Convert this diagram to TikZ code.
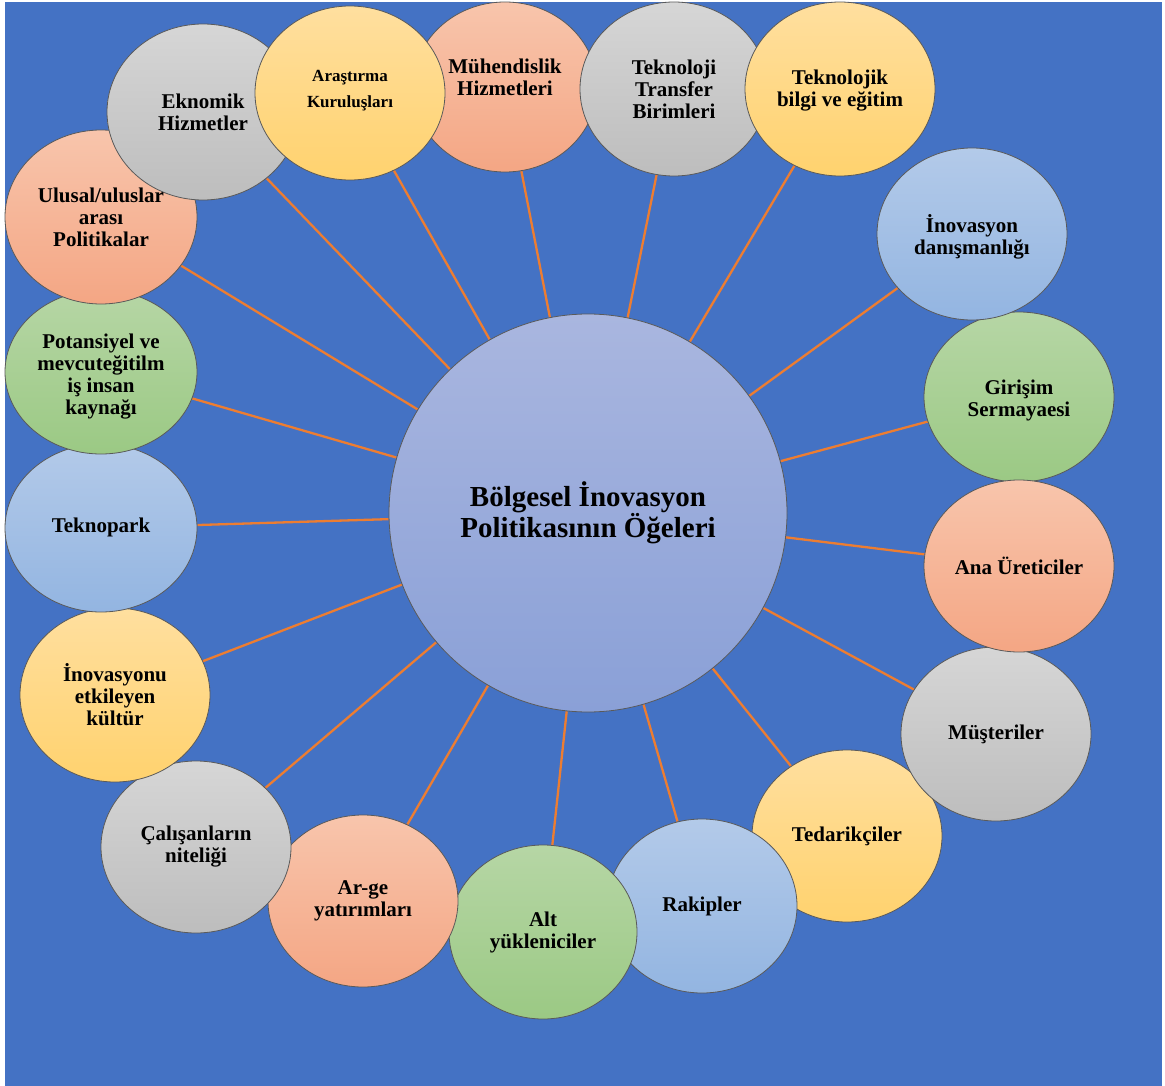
\documentclass[tikz,border=0pt]{standalone}
\usepackage{fontspec}
\setmainfont{Liberation Serif}
\usetikzlibrary{shapes.geometric}
\pgfdeclarelayer{bg}
\pgfsetlayers{bg,main}
\definecolor{bgblue}{HTML}{4472C4}
\definecolor{con}{HTML}{ED7D31}
\definecolor{edge}{HTML}{5A5A5A}
\definecolor{peachT}{HTML}{F8C5AC}
\definecolor{peachB}{HTML}{F4A684}
\definecolor{grayT}{HTML}{D6D6D6}
\definecolor{grayB}{HTML}{BDBDBD}
\definecolor{yelT}{HTML}{FFDF9F}
\definecolor{yelB}{HTML}{FFD26E}
\definecolor{bluT}{HTML}{B3CAE9}
\definecolor{bluB}{HTML}{93B5E1}
\definecolor{grnT}{HTML}{B6D6A5}
\definecolor{grnB}{HTML}{9BC984}
\definecolor{cenT}{HTML}{A9B6DF}
\definecolor{cenB}{HTML}{8AA0D7}
\tikzset{
  bub/.style={ellipse,draw=edge,line width=0.8pt,inner sep=0pt,
    minimum width=190pt,minimum height=172pt},
  peach/.style={top color=peachT,bottom color=peachB},
  grayf/.style={top color=grayT,bottom color=grayB},
  yel/.style={top color=yelT,bottom color=yelB},
  blu/.style={top color=bluT,bottom color=bluB},
  grn/.style={top color=grnT,bottom color=grnB},
  lab/.style={font=\bfseries\fontsize{21}{22}\selectfont,align=center,inner sep=0pt},
  conn/.style={draw=con,line width=2.3pt},
}
\begin{document}
\begin{tikzpicture}[x=1pt,y=-1pt]
\useasboundingbox (0,0) rectangle (1165,1086);
\begin{pgfonlayer}{bg}
\fill[white] (0,0) rectangle (1165,1086);
\fill[bgblue] (5,2) rectangle (1162,1086);
\end{pgfonlayer}

% center
\node[circle,draw=edge,line width=0.8pt,inner sep=0pt,minimum size=398pt,top color=cenT,bottom color=cenB] (c) at (588,513) {};

% satellites (draw order matters for overlaps)
\node[bub,peach,minimum width=184pt,minimum height=170pt] (muhendis) at (505,87) {};
\node[bub,grayf,minimum width=188pt,minimum height=174pt] (transfer) at (674,89) {};
\node[bub,yel,minimum height=174pt] (teknolojik) at (840,89) {};
\node[bub,grn,minimum height=170pt] (girisim) at (1019,397) {};
\node[bub,blu] (danisman) at (972,234) {};
\node[bub,yel] (tedarik) at (847,836) {};
\node[bub,grayf,minimum height=174pt] (musteri) at (996,734) {};
\node[bub,peach] (ana) at (1019,566) {};
\node[bub,blu,minimum height=174pt] (rakip) at (702,906) {};
\node[bub,grn,minimum width=188pt,minimum height=174pt] (alt) at (543,932) {};
\node[bub,peach] (arge) at (363,901) {};
\node[bub,grayf] (calisan) at (196,847) {};
\node[bub,yel,minimum height=174pt] (kultur) at (115,695) {};
\node[bub,blu,minimum width=192pt,minimum height=168pt] (teknopark) at (101,528) {};
\node[bub,grn,minimum width=192pt,minimum height=164pt] (potansiyel) at (101,372) {};
\node[bub,peach,minimum width=192pt,minimum height=174pt] (ulusal) at (101,217) {};
\node[bub,grayf,minimum width=192pt,minimum height=176pt] (eknomik) at (203,112) {};
\node[bub,yel,minimum height=174pt] (arastirma) at (350,93) {};

% connectors
\begin{pgfonlayer}{bg}
\foreach \t in {muhendis,transfer,teknolojik,girisim,danisman,tedarik,musteri,ana,rakip,alt,arge,calisan,kultur,teknopark,potansiyel,ulusal,eknomik,arastirma}
  \draw[conn] (c) -- (\t);
\end{pgfonlayer}

% texts
\node[lab,font=\bfseries\fontsize{29}{30}\selectfont] (tc) at (c) {Bölgesel İnovasyon\\Politikasının Öğeleri};
\node[lab] (t1) at ([yshift=10pt]muhendis.center) {Mühendislik\\Hizmetleri};
\node[lab] (t2) at (transfer) {Teknoloji\\Transfer\\Birimleri};
\node[lab] (t3) at ([yshift=-2pt]teknolojik.center) {Teknolojik\\bilgi ve eğitim};
\node[lab] (t4) at ([yshift=-3pt]girisim.center) {Girişim\\Sermayaesi};
\node[lab] (t5) at ([yshift=-3pt]danisman.center) {İnovasyon\\danışmanlığı};
\node[lab] (t6) at (tedarik) {Tedarikçiler};
\node[lab] (t7) at (musteri) {Müşteriler};
\node[lab] (t8) at (ana) {Ana Üreticiler};
\node[lab] (t9) at (rakip) {Rakipler};
\node[lab] (t10) at (alt) {Alt\\yükleniciler};
\node[lab] (t11) at (arge) {Ar-ge\\yatırımları};
\node[lab] (t12) at (calisan) {Çalışanların\\niteliği};
\node[lab] (t13) at (kultur) {İnovasyonu\\etkileyen\\kültür};
\node[lab] (t14) at ([yshift=1pt]teknopark.center) {Teknopark};
\node[lab] (t15) at ([yshift=-5pt]potansiyel.center) {Potansiyel ve\\mevcuteğitilm\\iş insan\\kaynağı};
\node[lab] (t16) at (ulusal) {Ulusal/uluslar\\arası\\Politikalar};
\node[lab] (t17) at (eknomik) {Eknomik\\Hizmetler};
\node[lab,font=\bfseries\fontsize{17}{26}\selectfont] (t18) at ([yshift=2pt]arastirma.center) {Araştırma\\Kuruluşları};
\end{tikzpicture}
\end{document}
